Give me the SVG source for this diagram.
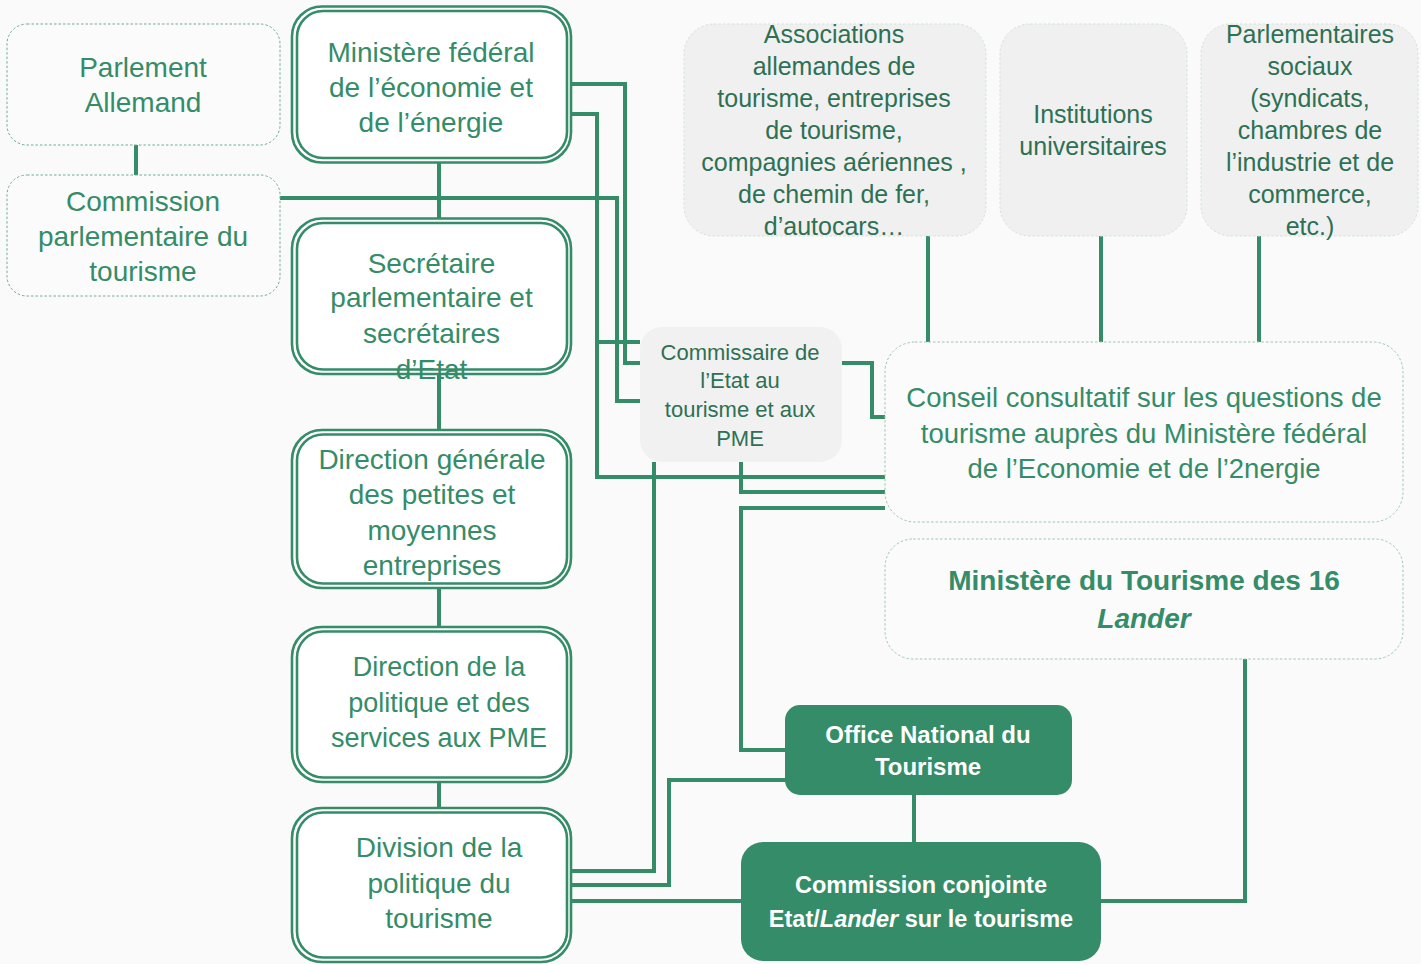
<svg xmlns="http://www.w3.org/2000/svg" width="1421" height="964" viewBox="0 0 1421 964">
<style>
.bg{fill:#fafafa}
.dash{fill:#fbfbfb;stroke:#6fae92;stroke-width:1;stroke-dasharray:2.5 2}
.grey{fill:#f0f0f0;stroke:#d3e3da;stroke-width:1;stroke-dasharray:2.5 2}
.comm{fill:#f1f1f1;stroke:none}
.dbl{fill:#ffffff;stroke:#358c68;stroke-width:2.6}
.dbli{fill:none;stroke:#358c68;stroke-width:2.6}
.solid{fill:#358c68;stroke:none}
.t{font-family:"Liberation Sans",Arial,sans-serif;fill:#358c68;text-anchor:middle;font-size:28px}
.td{font-family:"Liberation Sans",Arial,sans-serif;fill:#2e7054;text-anchor:middle;font-size:25px}
.tc{font-family:"Liberation Sans",Arial,sans-serif;fill:#2e7054;text-anchor:middle;font-size:22px}
.tb{font-family:"Liberation Sans",Arial,sans-serif;fill:#358c68;text-anchor:middle;font-size:28px;font-weight:bold}
.tw{font-family:"Liberation Sans",Arial,sans-serif;fill:#ffffff;text-anchor:middle;font-size:23.5px;font-weight:bold}
.conn path{fill:none;stroke:#358c68;stroke-width:4;stroke-linejoin:miter;stroke-linecap:butt}
</style>
<rect class="bg" x="0" y="0" width="1421" height="964"/>

<g class="conn" id="connectors">
<path d="M136 145 V175"/>
<path d="M439 162 V218"/>
<path d="M280 198 H617 V401 H640"/>
<path d="M570 84 H625 V363 H640"/>
<path d="M570 114 H597 V477 H885"/>
<path d="M597 342 H640"/>
<path d="M439 374 V430"/>
<path d="M439 588 V627"/>
<path d="M439 782 V808"/>
<path d="M841 363 H872 V417 H885"/>
<path d="M741 462 V492 H885"/>
<path d="M885 508 H741 V750 H785"/>
<path d="M654 462 V871 H568"/>
<path d="M568 885 H669 V780 H790"/>
<path d="M568 901 H742"/>
<path d="M914 795 V842"/>
<path d="M1245 659 V901 H1100"/>
<path d="M928 236 V342"/>
<path d="M1101 236 V342"/>
<path d="M1259 236 V342"/>
</g>

<g id="parlement">
<rect class="dash" x="7" y="24" width="273" height="121" rx="20"/>
<text class="t" x="143" y="77">Parlement</text>
<text class="t" x="143" y="112">Allemand</text>
</g>

<g id="commission-parlementaire">
<rect class="dash" x="7" y="175" width="273" height="121" rx="20"/>
<text class="t" x="143" y="211">Commission</text>
<text class="t" x="143" y="246">parlementaire du</text>
<text class="t" x="143" y="281">tourisme</text>
</g>

<g id="ministere-federal">
<rect class="dbl" x="292" y="6.5" width="279" height="156" rx="30"/>
<rect class="dbli" x="297" y="11" width="270" height="147" rx="26"/>
<text class="t" x="431" y="62">Ministère fédéral</text>
<text class="t" x="431" y="97">de l’économie et</text>
<text class="t" x="431" y="132">de l’énergie</text>
</g>

<g id="secretaire">
<rect class="dbl" x="292" y="218.5" width="279" height="155.5" rx="30"/>
<rect class="dbli" x="297" y="223" width="270" height="146.5" rx="26"/>
<text class="t" x="431.5" y="273">Secrétaire</text>
<text class="t" x="431.5" y="307">parlementaire et</text>
<text class="t" x="431.5" y="343">secrétaires</text>
<text class="t" x="431.5" y="379">d’Etat</text>
</g>

<g id="direction-generale">
<rect class="dbl" x="292" y="430" width="279" height="158" rx="30"/>
<rect class="dbli" x="297" y="434.5" width="270" height="149" rx="26"/>
<text class="t" x="432" y="469">Direction générale</text>
<text class="t" x="432" y="504">des petites et</text>
<text class="t" x="432" y="540">moyennes</text>
<text class="t" x="432" y="575">entreprises</text>
</g>

<g id="direction-politique">
<rect class="dbl" x="292" y="627" width="279" height="155" rx="30"/>
<rect class="dbli" x="297" y="631.5" width="270" height="146" rx="26"/>
<text class="t" x="439" y="676" style="font-size:27px">Direction de la</text>
<text class="t" x="439" y="712" style="font-size:27px">politique et des</text>
<text class="t" x="439" y="747" style="font-size:27px">services aux PME</text>
</g>

<g id="division">
<rect class="dbl" x="292" y="808" width="279" height="154" rx="30"/>
<rect class="dbli" x="297" y="812.5" width="270" height="145" rx="26"/>
<text class="t" x="439" y="857">Division de la</text>
<text class="t" x="439" y="893">politique du</text>
<text class="t" x="439" y="928">tourisme</text>
</g>

<g id="commissaire">
<rect class="comm" x="640" y="327" width="202" height="135" rx="22"/>
<text class="tc" x="740" y="360">Commissaire de</text>
<text class="tc" x="740" y="388">l’Etat au</text>
<text class="tc" x="740" y="417">tourisme et aux</text>
<text class="tc" x="740" y="446">PME</text>
</g>

<g id="associations">
<rect class="grey" x="684" y="24" width="302" height="212" rx="30"/>
<text class="td" x="834" y="43">Associations</text>
<text class="td" x="834" y="75">allemandes de</text>
<text class="td" x="834" y="107">tourisme, entreprises</text>
<text class="td" x="834" y="139">de tourisme,</text>
<text class="td" x="834" y="171">compagnies aériennes ,</text>
<text class="td" x="834" y="203">de chemin de fer,</text>
<text class="td" x="834" y="235">d’autocars…</text>
</g>

<g id="institutions">
<rect class="grey" x="1000" y="24" width="187" height="212" rx="30"/>
<text class="td" x="1093" y="123">Institutions</text>
<text class="td" x="1093" y="155">universitaires</text>
</g>

<g id="parlementaires-sociaux">
<rect class="grey" x="1201" y="24" width="217" height="212" rx="30"/>
<text class="td" x="1310" y="43">Parlementaires</text>
<text class="td" x="1310" y="75">sociaux</text>
<text class="td" x="1310" y="107">(syndicats,</text>
<text class="td" x="1310" y="139">chambres de</text>
<text class="td" x="1310" y="171">l’industrie et de</text>
<text class="td" x="1310" y="203">commerce,</text>
<text class="td" x="1310" y="235">etc.)</text>
</g>

<g id="conseil">
<rect class="dash" x="885" y="342" width="518" height="180" rx="30" style="stroke:#9cc8b4"/>
<text class="t" x="1144" y="407" style="font-size:27.5px">Conseil consultatif sur les questions de</text>
<text class="t" x="1144" y="443" style="font-size:27.5px">tourisme auprès du Ministère fédéral</text>
<text class="t" x="1144" y="478" style="font-size:27.5px">de l’Economie et de l’2nergie</text>
</g>

<g id="ministere-lander">
<rect class="dash" x="885" y="539" width="518" height="120" rx="28" style="stroke:#9cc8b4"/>
<text class="tb" x="1144" y="590">Ministère du Tourisme des 16</text>
<text class="tb" x="1144" y="628" font-style="italic">Lander</text>
</g>

<g id="office-national">
<rect class="solid" x="785" y="705" width="287" height="90" rx="15"/>
<text class="tw" x="928" y="743" style="font-size:24px">Office National du</text>
<text class="tw" x="928" y="775" style="font-size:24px">Tourisme</text>
</g>

<g id="commission-conjointe">
<rect class="solid" x="741" y="842" width="360" height="119" rx="22"/>
<text class="tw" x="921" y="893">Commission conjointe</text>
<text class="tw" x="921" y="927">Etat/<tspan font-style="italic">Lander</tspan> sur le tourisme</text>
</g>
</svg>
